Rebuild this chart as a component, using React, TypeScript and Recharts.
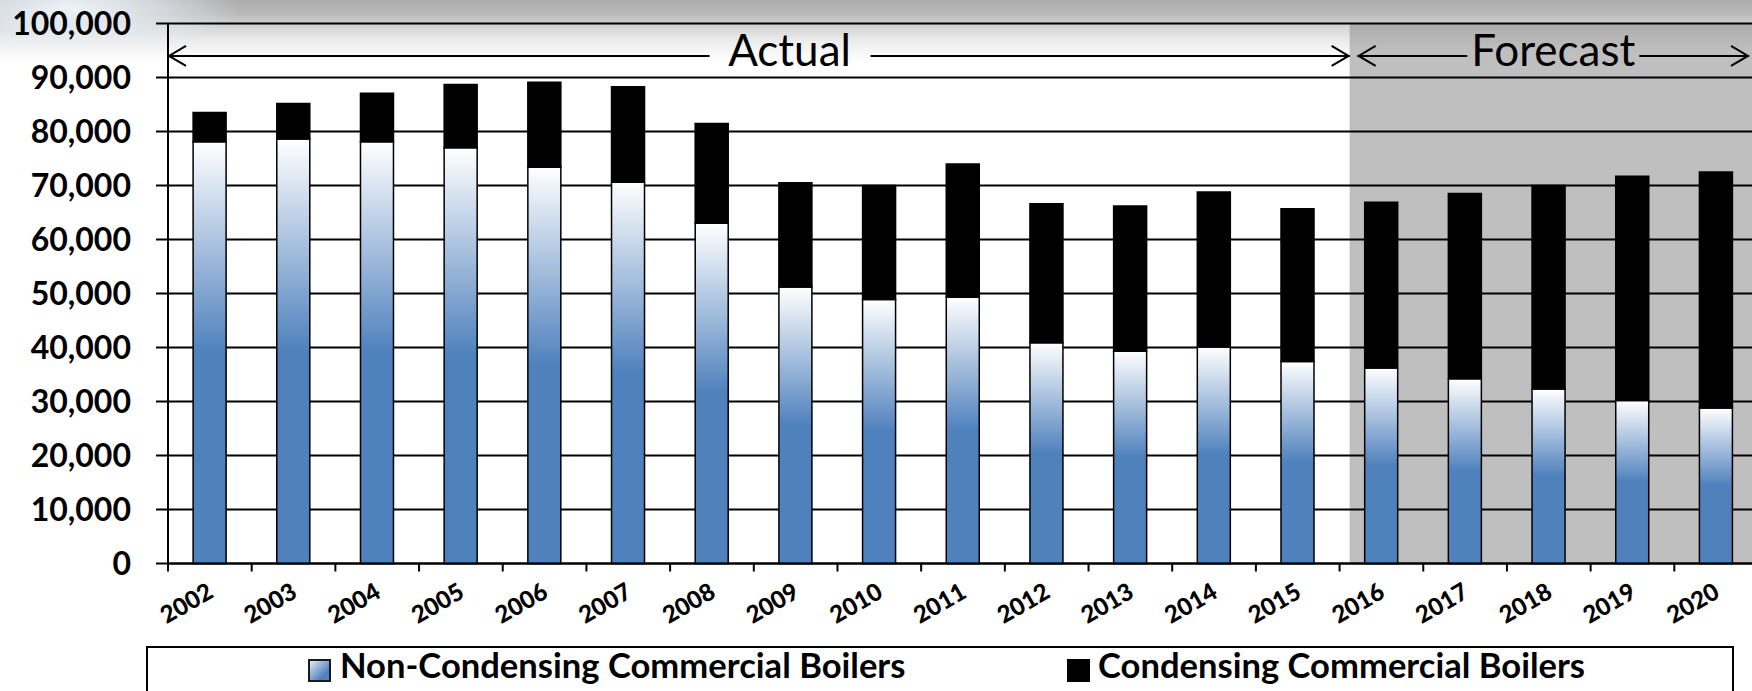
import React from 'react';
import { BarChart, Bar, XAxis, YAxis, CartesianGrid, ReferenceArea } from 'recharts';

const years = ['2002','2003','2004','2005','2006','2007','2008','2009','2010','2011','2012','2013','2014','2015','2016','2017','2018','2019','2020'];
const nonCondensing = [78100, 78600, 78100, 77000, 73400, 70600, 63000, 51200, 48900, 49300, 40900, 39300, 40100, 37400, 36200, 34200, 32300, 30200, 28800];
const condensing = [5400, 6600, 9000, 11700, 15700, 17700, 18500, 19300, 21100, 24700, 25700, 26900, 28700, 28300, 30700, 34300, 37700, 41500, 43700];
const yTicks = [0, 10000, 20000, 30000, 40000, 50000, 60000, 70000, 80000, 90000, 100000];
const seriesNames = ['Non-Condensing Commercial Boilers', 'Condensing Commercial Boilers'];
const actualRange = ['2002', '2015'];
const forecastRange = ['2016', '2020'];
const arrowBand = [90000, 100000];
const periodLabels = ['Actual', 'Forecast'];

const data = years.map((y, i) => ({ year: y, nonCond: nonCondensing[i], cond: condensing[i] }));

const FONT = 'Lato, "Open Sans", sans-serif';

const XTick = (props: any) => {
  const { x, y, payload, index } = props;
  const half = payload && typeof payload.offset === 'number' && payload.offset > 0 ? payload.offset : 41.85;
  const isLast = index === years.length - 1;
  const tx = x + 5;
  const ty = y + 33;
  return (
    <g>
      <line x1={x - half} y1={y} x2={x - half} y2={y + 8} stroke="#000" strokeWidth={2} />
      {isLast && <line x1={x + half} y1={y} x2={x + half} y2={y + 8} stroke="#000" strokeWidth={2} />}
      <text x={tx} y={ty} textAnchor="end" transform={`rotate(-30, ${tx}, ${ty})`} fontFamily={FONT} fontWeight={900} fontSize={24} fill="#000">
        {payload.value}
      </text>
    </g>
  );
};

const Chevron = ({ tipX, y, dir }: { tipX: number; y: number; dir: number }) => (
  <polyline
    points={`${tipX + dir * 17},${y - 10} ${tipX},${y} ${tipX + dir * 17},${y + 10}`}
    fill="none"
    stroke="#000"
    strokeWidth={2}
  />
);

const GrayShape = (props: any) => {
  const { x, y, width, height } = props;
  const band = width / 5;
  const sx = x + band * 0.12;
  return <rect x={sx} y={y} width={x + width + 20 - sx} height={height} fill="url(#grayGrad)" />;
};

const ActualArrow = (props: any) => {
  const { x, y, width, height } = props;
  const band = width / 14;
  const left = x;
  const right = x + width + band * 0.12;
  const ay = y + height * 0.6;
  const cx = left + (right - left) * 0.526;
  return (
    <g>
      <line x1={left} y1={ay} x2={cx - 80} y2={ay} stroke="#000" strokeWidth={2} />
      <line x1={cx + 81} y1={ay} x2={right} y2={ay} stroke="#000" strokeWidth={2} />
      <Chevron tipX={left + 1} y={ay} dir={1} />
      <Chevron tipX={right - 1} y={ay} dir={-1} />
      <text x={cx} y={ay + 10} textAnchor="middle" fontFamily={FONT} fontSize={44} fill="#000">{periodLabels[0]}</text>
    </g>
  );
};

const ForecastArrow = (props: any) => {
  const { x, y, width, height } = props;
  const band = width / 5;
  const left = x + band * 0.12 + 8;
  const right = x + width - 9;
  const ay = y + height * 0.6;
  const cx = (left + right) / 2;
  return (
    <g>
      <line x1={left} y1={ay} x2={cx - 86} y2={ay} stroke="#000" strokeWidth={2} />
      <line x1={cx + 86} y1={ay} x2={right} y2={ay} stroke="#000" strokeWidth={2} />
      <Chevron tipX={left + 1} y={ay} dir={1} />
      <Chevron tipX={right - 1} y={ay} dir={-1} />
      <text x={cx} y={ay + 10} textAnchor="middle" fontFamily={FONT} fontSize={44} fill="#000">{periodLabels[1]}</text>
    </g>
  );
};

export default function App() {
  return (
    <div
      style={{
        position: 'absolute',
        left: 0,
        top: 0,
        width: 1752,
        height: 691,
        overflow: 'hidden',
        background:
          'radial-gradient(ellipse 170px 45px at 70px 8px, rgba(236,243,250,1) 0%, rgba(236,243,250,0.6) 50%, rgba(236,243,250,0) 100%), linear-gradient(to bottom, #acacac 0px, #bababa 14px, #d4d4d4 26px, #eeeeee 42px, #ffffff 62px)',
        fontFamily: FONT,
      }}
    >
      <BarChart
        width={1760}
        height={691}
        data={data}
        margin={{ top: 23.5, right: 2, left: 0, bottom: 0 }}
        barCategoryGap="30%"
      >
        <defs>
          <linearGradient id="ncGrad" x1="0" y1="0" x2="0" y2="1">
            <stop offset="0" stopColor="#ffffff" />
            <stop offset="0.5" stopColor="#4f81bd" />
            <stop offset="1" stopColor="#4f81bd" />
          </linearGradient>
          <linearGradient id="grayGrad" x1="0" y1="0" x2="0" y2="1">
            <stop offset="0" stopColor="#ababab" />
            <stop offset="0.05" stopColor="#bfbfbf" />
            <stop offset="1" stopColor="#bfbfbf" />
          </linearGradient>
        </defs>
        <ReferenceArea
          x1={forecastRange[0]}
          x2={forecastRange[1]}
          y1={0}
          y2={100000}
          shape={GrayShape}
          ifOverflow="visible"
          zIndex={-200}
        />
        <CartesianGrid vertical={false} stroke="#000" strokeWidth={2} strokeOpacity={1} />
        <XAxis
          dataKey="year"
          height={127.5}
          tickLine={false}
          tickSize={0}
          tickMargin={0}
          axisLine={{ stroke: '#000', strokeWidth: 2 }}
          tick={<XTick />}
          interval={0}
        />
        <YAxis
          width={168}
          domain={[0, 100000]}
          ticks={yTicks}
          interval={0}
          tickSize={12}
          tickMargin={25}
          axisLine={{ stroke: '#000', strokeWidth: 2 }}
          tickLine={{ stroke: '#000', strokeWidth: 2 }}
          tick={{ fill: '#000', fontSize: 32, fontWeight: 700, fontFamily: FONT }}
          tickFormatter={(v: number) => v.toLocaleString('en-US')}
        />
        <Bar dataKey="nonCond" stackId="a" fill="url(#ncGrad)" stroke="#000" strokeWidth={1.5} isAnimationActive={false} />
        <Bar dataKey="cond" stackId="a" fill="#000" stroke="#000" strokeWidth={1.5} isAnimationActive={false} />
        <ReferenceArea
          x1={actualRange[0]}
          x2={actualRange[1]}
          y1={arrowBand[0]}
          y2={arrowBand[1]}
          shape={ActualArrow}
          ifOverflow="visible"
          zIndex={1500}
        />
        <ReferenceArea
          x1={forecastRange[0]}
          x2={forecastRange[1]}
          y1={arrowBand[0]}
          y2={arrowBand[1]}
          shape={ForecastArrow}
          ifOverflow="visible"
          zIndex={1500}
        />
      </BarChart>
      <div
        style={{
          position: 'absolute',
          left: 146,
          top: 646,
          width: 1588,
          height: 80,
          border: '2px solid #000',
          background: '#fff',
          boxSizing: 'border-box',
        }}
      >
        <div
          style={{
            position: 'absolute',
            left: 160,
            top: 11,
            width: 19,
            height: 19,
            border: '2px solid #1a1a1a',
            background: 'linear-gradient(135deg, #e3ebf5 0%, #9db8dc 35%, #4f81bd 75%, #4f81bd 100%)',
          }}
        />
        <div style={{ position: 'absolute', left: 192, top: -4, fontSize: 34.6, fontWeight: 700, whiteSpace: 'nowrap', color: '#000' }}>
          {seriesNames[0]}
        </div>
        <div
          style={{
            position: 'absolute',
            left: 919,
            top: 11,
            width: 19,
            height: 19,
            border: '2px solid #000',
            background: '#000',
          }}
        />
        <div style={{ position: 'absolute', left: 950, top: -4, fontSize: 34.6, fontWeight: 700, whiteSpace: 'nowrap', color: '#000' }}>
          {seriesNames[1]}
        </div>
      </div>
    </div>
  );
}
